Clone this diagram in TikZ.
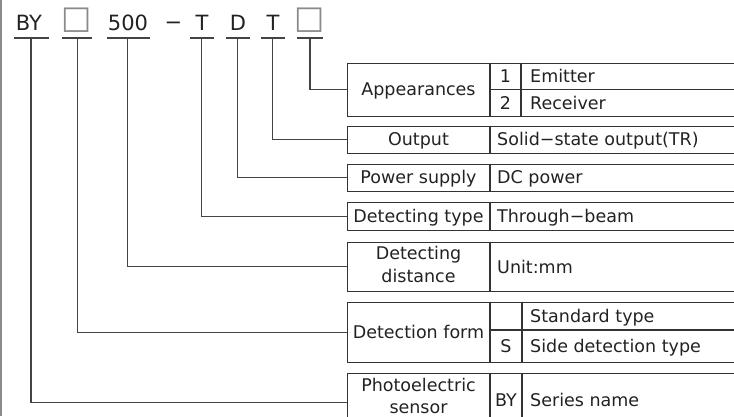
\documentclass[tikz,border=0pt]{standalone}
\usepackage{fontspec}
\setmainfont{DejaVu Sans}
\definecolor{ink}{HTML}{222222}
\definecolor{edge}{HTML}{333333}
\definecolor{wire}{HTML}{444444}
\definecolor{frame}{HTML}{8A8A8A}
\begin{document}
\begin{tikzpicture}[x=1pt,y=-1pt,
  toptext/.style={anchor=base, inner sep=0, text=ink, font=\fontsize{21}{24}\selectfont},
  sqtext/.style={anchor=base, inner sep=0, text=frame, font=\fontsize{32}{36}\selectfont},
  uline/.style={draw=wire, line width=1.2pt},
  wirestyle/.style={draw=wire, line width=1.1pt},
  boxline/.style={draw=edge, line width=1.3pt},
  rowbox/.style={draw=edge, line width=1.3pt, inner sep=0, minimum width=420pt, anchor=north west},
  lab/.style={anchor=base, inner sep=0, text=ink, font=\fontsize{17.5}{20}\selectfont},
  labl/.style={lab, anchor=base west},
]
\useasboundingbox (0,0) rectangle (734,416);
\clip (0,0) rectangle (734,416);
% frame line on the left
\draw[draw=frame, line width=1.6pt] (0.8,0) -- (0.8,416);

% ---- code letters on top
\node[toptext] (by)  at (29,30) {BY};
\node[sqtext]  (sqa) at (77,28) {□};
\node[toptext] (dist) at (128,30) {500};
\node[toptext, font=\fontsize{21}{24}\selectfont] (dash) at (173.5,29.5) {−};
\node[toptext] (tty) at (202,30) {T};
\node[toptext] (ddc) at (238,30) {D};
\node[toptext] (tout) at (273,30) {T};
\node[sqtext]  (sqb) at (310,28) {□};

\draw[uline] (14,38) -- (49,38);
\draw[uline] (62,38) -- (92,38);
\draw[uline] (107,38) -- (150,38);
\draw[uline] (190,38) -- (214,38);
\draw[uline] (226,38) -- (250,38);
\draw[uline] (261,38) -- (285,38);
\draw[uline] (297,38) -- (323,38);

\coordinate (c1) at (31,38);
\coordinate (c2) at (77.7,38);
\coordinate (c3) at (127.7,38);
\coordinate (c4) at (201.7,38);
\coordinate (c5) at (237.7,38);
\coordinate (c6) at (272.7,38);
\coordinate (c7) at (310,38);

% ---- row boxes
\node[rowbox, minimum height=53.5pt] (app)  at (347,62.5) {};
\node[rowbox, minimum height=27pt]   (outp) at (347,125.5) {};
\node[rowbox, minimum height=27pt]   (pow)  at (347,163.5) {};
\node[rowbox, minimum height=28pt]   (dtyp) at (347,202) {};
\node[rowbox, minimum height=49pt]   (ddis) at (347,241.5) {};
\node[rowbox, minimum height=60pt]   (dfrm) at (347,301.5) {};
\node[rowbox, minimum height=58pt]   (phot) at (347,372.5) {};

% inner cell lines
\draw[boxline] (490,62.5) -- (490,116);
\draw[boxline] (521,62.5) -- (521,116);
\draw[boxline] (490,89.3) -- (770,89.3);
\draw[boxline] (490,125.5) -- (490,152.5);
\draw[boxline] (490,163.5) -- (490,190.5);
\draw[boxline] (490,202) -- (490,230);
\draw[boxline] (490,241.5) -- (490,290.5);
\draw[boxline] (490,301.5) -- (490,361.5);
\draw[boxline] (522,301.5) -- (522,361.5);
\draw[boxline] (490,330) -- (770,330);
\draw[boxline] (490,372.5) -- (490,430.5);
\draw[boxline] (522,372.5) -- (522,430.5);

% ---- texts in boxes
\node[lab] (tapp) at (418.5,95.6) {Appearances};
\node[lab] (n1) at (505.5,82) {1};
\node[lab] (n2) at (505.5,109) {2};
\node[labl] (temi) at (530,82) {Emitter};
\node[labl] (trec) at (530,109) {Receiver};

\node[lab] (tout2) at (418.5,145.6) {Output};
\node[labl] (tss) at (497,145.6) {Solid−state output(TR)};

\node[lab] (tpow) at (418.5,183.6) {Power supply};
\node[labl] (tdc) at (497,183.6) {DC power};

\node[lab] (tdt) at (418.5,222.4) {Detecting type};
\node[labl] (ttb) at (497,222.4) {Through−beam};

\node[lab] (tdd1) at (418.5,259.7) {Detecting};
\node[lab] (tdd2) at (418.5,282.3) {distance};
\node[labl] (tunit) at (497,273) {Unit:mm};

\node[lab] (tdf) at (418.5,338) {Detection form};
\node[labl] (tstd) at (530,322) {Standard type};
\node[lab] (ts) at (506,352) {S};
\node[labl] (tside) at (530,352) {Side detection type};

\node[lab] (tph1) at (418.5,391.5) {Photoelectric};
\node[lab] (tph2) at (418.5,413) {sensor};
\node[lab] (tby) at (506,406.5) {BY};
\node[labl] (tser) at (530,406.5) {Series name};

% ---- connectors
\draw[wirestyle] (c7) |- (app.west);
\draw[wirestyle] (c6) |- (outp.west);
\draw[wirestyle] (c5) |- (pow.west);
\draw[wirestyle] (c4) |- (dtyp.west);
\draw[wirestyle] (c3) |- (ddis.west);
\draw[wirestyle] (c2) |- (dfrm.west);
\draw[wirestyle] (c1) |- (phot.west);
\end{tikzpicture}
\end{document}
